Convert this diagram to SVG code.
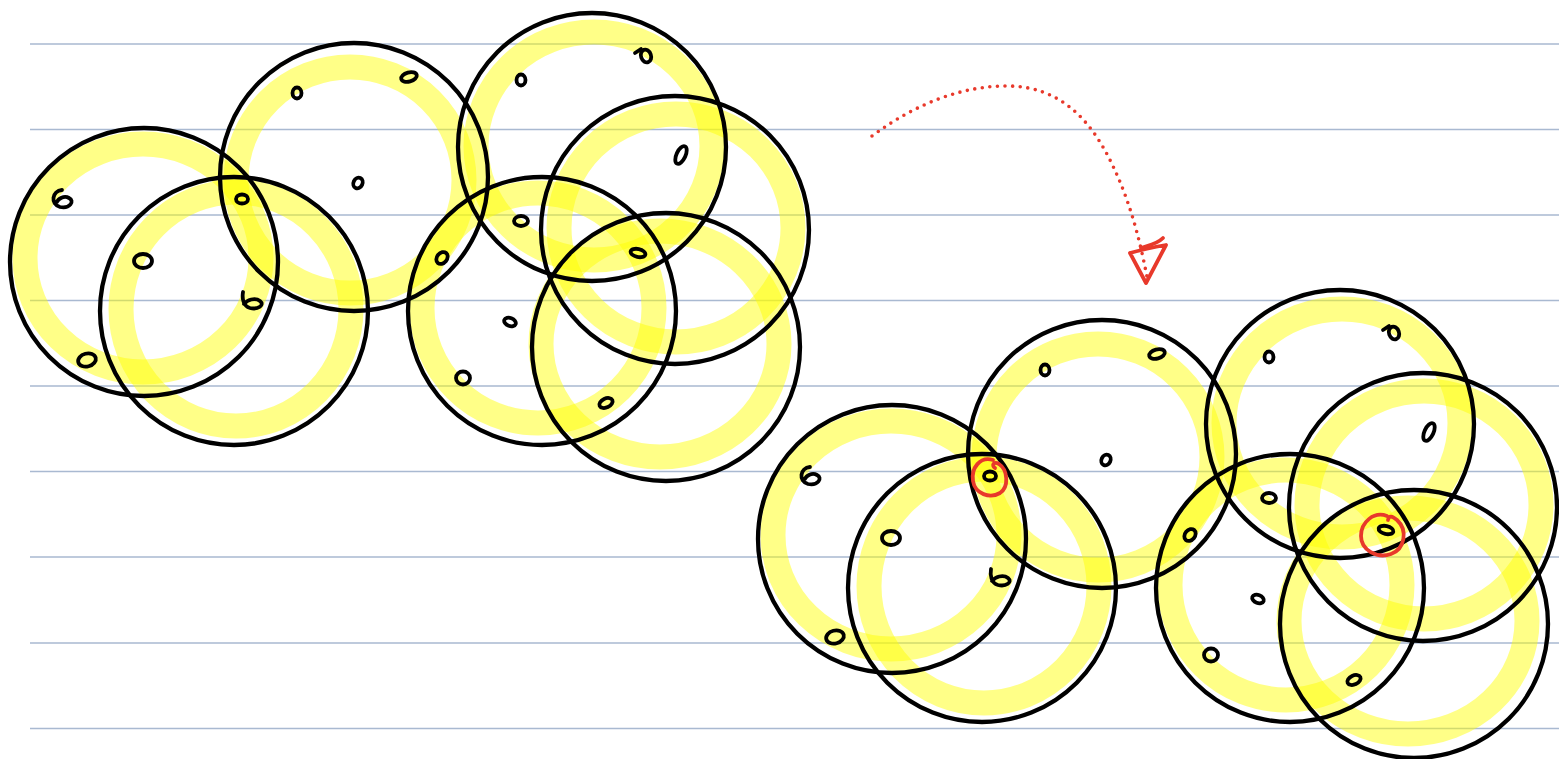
<svg xmlns="http://www.w3.org/2000/svg" width="1559" height="759" viewBox="0 0 1559 759">
<style>
.rule{stroke:#a9b9d1;stroke-width:1.6;fill:none}
.hl{fill:none;stroke:#ffff00;stroke-opacity:0.47;stroke-width:25}
.ring{fill:none;stroke:#000;stroke-width:4.3}
.mk{fill:none;stroke:#000;stroke-width:3.8;stroke-linecap:round;stroke-linejoin:round}
.red{fill:none;stroke:#e8392b;stroke-width:3.8;stroke-linecap:round;stroke-linejoin:round}
.dots{fill:none;stroke:#e8392b;stroke-width:3.6;stroke-linecap:round;stroke-dasharray:0 7.6}
</style>
<defs>
<g id="set">
  <g class="hl">
    <ellipse cx="143" cy="258" rx="118" ry="114"/>
    <ellipse cx="236" cy="309" rx="115" ry="117"/>
    <ellipse cx="350" cy="180" rx="114" ry="113"/>
    <ellipse cx="594" cy="146" rx="118" ry="114"/>
    <ellipse cx="538" cy="308" rx="116" ry="115"/>
    <ellipse cx="676" cy="228" rx="117" ry="114"/>
    <ellipse cx="660" cy="344" rx="119" ry="113"/>
  </g>
</g>
<g id="marks" class="mk">
  <path d="M62,190 C52,191 50,204 60,207 C70,209 75,201 69,198 C64,195 58,199 57,202"/>
  <ellipse cx="143" cy="261" rx="9" ry="7"/>
  <ellipse cx="87" cy="360" rx="9" ry="6.5" transform="rotate(-15 87 360)"/>
  <ellipse cx="242" cy="199" rx="6" ry="4.5"/>
  <path d="M243,292 C242,298 243,306 250,308 C258,310 265,305 260,301 C255,297 247,300 244,304"/>
  <ellipse cx="297" cy="93" rx="4.5" ry="5.5"/>
  <ellipse cx="409" cy="77" rx="8" ry="4.5" transform="rotate(-15 409 77)"/>
  <ellipse cx="521" cy="80" rx="4.5" ry="5.5"/>
  <path d="M635,53 L641,49"/>
  <ellipse cx="646" cy="56" rx="5" ry="6.5" transform="rotate(-20 646 56)"/>
  <ellipse cx="681" cy="155" rx="9.5" ry="4.5" transform="rotate(-65 681 155)"/>
  <ellipse cx="358" cy="183" rx="4.5" ry="5.5" transform="rotate(25 358 183)"/>
  <ellipse cx="521" cy="221" rx="7" ry="5"/>
  <ellipse cx="442" cy="258" rx="5" ry="6.5" transform="rotate(40 442 258)"/>
  <ellipse cx="638" cy="253" rx="7.5" ry="4" transform="rotate(12 638 253)"/>
  <ellipse cx="510" cy="322" rx="6" ry="4" transform="rotate(20 510 322)"/>
  <ellipse cx="463" cy="378" rx="7" ry="6.5"/>
  <ellipse cx="606" cy="403" rx="7" ry="4.5" transform="rotate(-25 606 403)"/>
</g>
</defs>
<g id="rules">
  <line class="rule" x1="30" y1="44" x2="1559" y2="44"/>
  <line class="rule" x1="30" y1="129.5" x2="1559" y2="129.5"/>
  <line class="rule" x1="30" y1="215" x2="1559" y2="215"/>
  <line class="rule" x1="30" y1="300.5" x2="1559" y2="300.5"/>
  <line class="rule" x1="30" y1="386" x2="1559" y2="386"/>
  <line class="rule" x1="30" y1="471.5" x2="1559" y2="471.5"/>
  <line class="rule" x1="30" y1="557" x2="1559" y2="557"/>
  <line class="rule" x1="30" y1="643" x2="1559" y2="643"/>
  <line class="rule" x1="30" y1="728.5" x2="1559" y2="728.5"/>
</g>
<g id="highlights">
  <use href="#set"/>
  <use href="#set" transform="translate(748,277)"/>
</g>
<g id="left-group">
  <g id="l-a"><circle class="ring" cx="144" cy="262" r="134"/></g>
  <g id="l-b"><circle class="ring" cx="234" cy="311" r="134"/></g>
  <g id="l-c"><circle class="ring" cx="354" cy="177" r="134"/></g>
  <g id="l-d"><circle class="ring" cx="592" cy="147" r="134"/></g>
  <g id="l-e"><circle class="ring" cx="542" cy="311" r="134"/></g>
  <g id="l-f"><circle class="ring" cx="675" cy="230" r="134"/></g>
  <g id="l-g"><circle class="ring" cx="666" cy="347" r="134"/></g>
  <use href="#marks"/>
</g>
<g id="right-group" transform="translate(748,277)">
  <g id="r-a"><circle class="ring" cx="144" cy="262" r="134"/></g>
  <g id="r-b"><circle class="ring" cx="234" cy="311" r="134"/></g>
  <g id="r-c"><circle class="ring" cx="354" cy="177" r="134"/></g>
  <g id="r-d"><circle class="ring" cx="592" cy="147" r="134"/></g>
  <g id="r-e"><circle class="ring" cx="542" cy="311" r="134"/></g>
  <g id="r-f"><circle class="ring" cx="675" cy="230" r="134"/></g>
  <g id="r-g"><circle class="ring" cx="666" cy="347" r="134"/></g>
  <use href="#marks"/>
</g>
<g id="connectors">
  <path class="dots" d="M872,136 Q940,86 1007,86 C1060,86 1090,120 1110,160 C1130,200 1140,240 1148,282"/>
  <path class="red" d="M1130,253 L1146,283 L1166,245 C1155,247 1141,250 1130,253"/>
  <path class="red" d="M1141,248 C1150,245 1157,244 1163,238"/>
  <path class="red" d="M993,460 C980,456 971,468 973,481 C975,494 990,499 1000,493 C1009,487 1008,470 999,464 C994,461 991,465 995,468"/>
  <path class="red" d="M1387,516 C1374,511 1361,522 1361,536 C1361,550 1377,559 1391,554 C1405,549 1408,530 1397,520 C1392,516 1389,515 1388,520"/>
</g>
</svg>
